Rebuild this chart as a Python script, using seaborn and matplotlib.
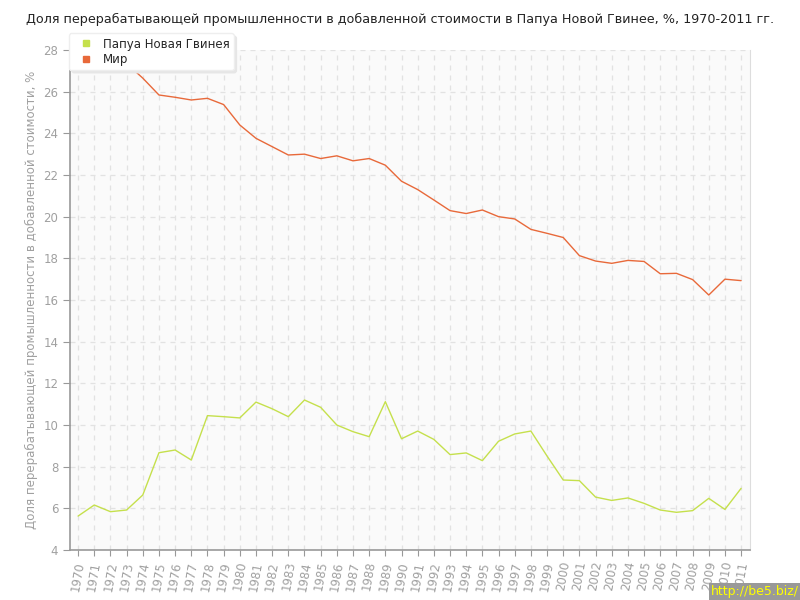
import numpy as np
import pandas as pd
import seaborn as sns
import matplotlib.pyplot as plt
from matplotlib.lines import Line2D

# data
years = list(range(1970, 2012))
png = [5.63, 6.16, 5.84, 5.92, 6.64, 8.67, 8.80, 8.32, 10.45, 10.40,
       10.34, 11.10, 10.78, 10.40, 11.20, 10.85, 10.00, 9.68, 9.44, 11.12,
       9.34, 9.71, 9.31, 8.58, 8.66, 8.29, 9.22, 9.57, 9.71, 8.51,
       7.36, 7.33, 6.54, 6.38, 6.50, 6.24, 5.92, 5.81, 5.89, 6.48,
       5.95, 6.96]
world = [27.70, 27.75, 27.60, 27.35, 26.65, 25.84, 25.73, 25.60, 25.68, 25.38,
         24.40, 23.76, 23.36, 22.96, 23.00, 22.79, 22.92, 22.68, 22.79, 22.47,
         21.70, 21.30, 20.80, 20.29, 20.15, 20.32, 20.00, 19.89, 19.39, 19.20,
         19.00, 18.13, 17.87, 17.76, 17.90, 17.85, 17.26, 17.28, 16.98, 16.24,
         17.00, 16.93]
names = ['Папуа Новая Гвинея', 'Мир']
colors = ['#c5e04c', '#e8693a']

title = 'Доля перерабатывающей промышленности в добавленной стоимости в Папуа Новой Гвинее, %, 1970-2011 гг.'
ylabel = 'Доля перерабатывающей промышленности в добавленной стоимости, %'

df = pd.DataFrame({
    'year': years * 2,
    'value': png + world,
    'country': [names[0]] * len(years) + [names[1]] * len(years),
})

sns.set_style('white')
plt.rcParams['font.family'] = ['DejaVu Sans']

fig = plt.figure(figsize=(8, 6), dpi=100)
ax = fig.add_axes([0.0875, 0.0833, 0.85, 0.8334])
ax.set_facecolor('#fafafa')

sns.lineplot(data=df, x='year', y='value', hue='country', palette=colors,
             hue_order=names, linewidth=1, ax=ax, legend=False)

ax.set_xlim(1969.5, 2011.55)
ax.set_ylim(4, 28)
ax.set_yticks(range(4, 29, 2))
ax.set_xticks(years)
ax.set_xticklabels([str(y) for y in years], rotation=80, fontsize=8.5,
                   color='#a0a0a0')
ax.tick_params(axis='y', labelsize=8.5, labelcolor='#a0a0a0', length=5,
               color='#999999', direction='out', left=True)
ax.tick_params(axis='x', length=4, color='#999999', bottom=True)
ax.grid(True, linestyle=(0, (4, 4)), color='#e2e2e2', linewidth=0.9)
ax.set_axisbelow(True)

for s in ['left', 'bottom']:
    ax.spines[s].set_color('#999999')
    ax.spines[s].set_linewidth(1.2)
ax.spines['top'].set_visible(False)
ax.spines['right'].set_color('#dddddd')

ax.set_xlabel('')
ax.set_ylabel(ylabel, fontsize=8.5, color='#a0a0a0', labelpad=4)
fig.text(0.5, 0.968, title, ha='center', va='center', fontsize=9.2,
         color='#222222')

# legend
handles = [Line2D([], [], marker='s', linestyle='', markersize=5,
                  color=c) for c in colors]
leg = ax.legend(handles, names, loc='upper left', bbox_to_anchor=(-0.01, 1.045),
                frameon=True, fontsize=8.5, handletextpad=0.3,
                borderpad=0.35, labelspacing=0.2, handlelength=2.2,
                fancybox=True, framealpha=1, shadow={'color': '#e6e6e6', 'alpha': 1})
leg.get_frame().set_edgecolor('#eeeeee')
leg.set_zorder(10)

fig.text(0.999, 0.003, 'http://be5.biz/', ha='right', va='bottom', fontsize=9,
         color='#ffff00',
         bbox=dict(facecolor='#999999', edgecolor='none', pad=1.5))

plt.savefig('out.png', dpi=100)
